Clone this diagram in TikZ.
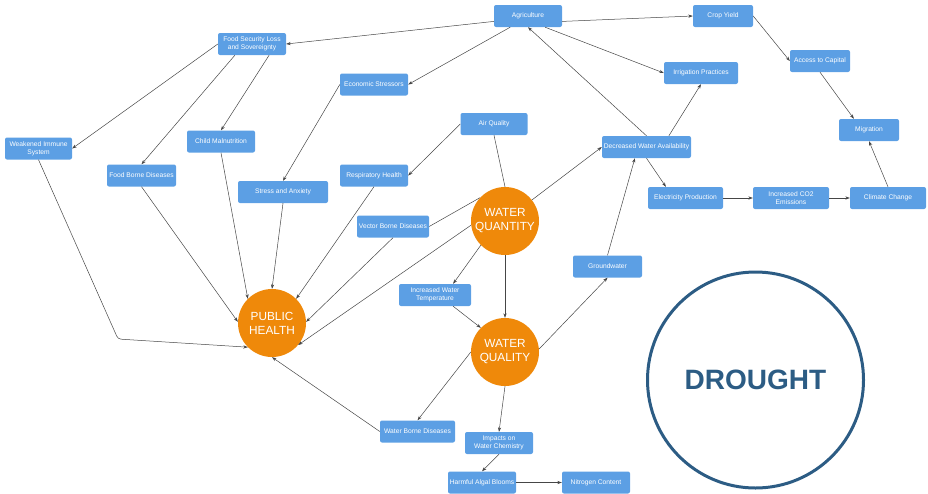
\documentclass[tikz,border=0pt]{standalone}
\usepackage{fontspec}
\setmainfont{Liberation Sans}
\usetikzlibrary{arrows.meta,calc}
\definecolor{boxblue}{RGB}{92,159,228}
\definecolor{hubor}{RGB}{239,137,10}
\definecolor{linegray}{RGB}{70,70,70}
\definecolor{drblue}{RGB}{44,92,132}
\tikzset{
  box/.style={rectangle, rounded corners=2pt, fill=boxblue, text=white, align=center,
    minimum height=22pt, inner sep=0.5pt, font=\fontsize{6.7}{7.9}\selectfont},
  hub/.style={circle, fill=hubor, minimum size=68pt, inner sep=0pt, text=white, align=center,
    font=\fontsize{11.8}{14}\selectfont},
  conn/.style={draw=linegray, line width=0.5pt, -{Stealth[length=4.5pt,width=3.2pt]}},
  plainline/.style={draw=linegray, line width=0.5pt},
}
\begin{document}
\begin{tikzpicture}[x=1pt,y=-1pt]
\useasboundingbox (0,0) rectangle (928,493);
% boxes
\node[box, minimum width=68pt] (ag) at (528,16) {Agriculture};
\node[box, minimum width=60pt] (cy) at (723,16) {Crop Yield};
\node[box, minimum width=68pt] (fs) at (252,44) {Food Security Loss\\and Sovereignty};
\node[box, minimum width=74pt] (ip) at (701,73) {Irrigation Practices};
\node[box, minimum width=60pt] (ac) at (820,61) {Access to Capital};
\node[box, minimum width=68pt] (es) at (374,84.5) {Economic Stressors};
\node[box, minimum width=67pt] (aq) at (494,124) {Air Quality};
\node[box, minimum width=60pt] (mig) at (869,130) {Migration};
\node[box, minimum width=67pt] (wis) at (38.5,148.5) {Weakened Immune\\System};
\node[box, minimum width=68pt] (cm) at (221,141.5) {Child Malnutrition};
\node[box, minimum width=89pt] (dwa) at (646.5,147) {Decreased Water Availability};
\node[box, minimum width=69pt] (fbd) at (141.5,175.5) {Food Borne Diseases};
\node[box, minimum width=68pt] (rh) at (374,175.5) {Respiratory Health};
\node[box, minimum width=90pt] (sa) at (283,192) {Stress and Anxiety};
\node[box, minimum width=75pt] (ep) at (685.5,198) {Electricity Production};
\node[box, minimum width=76pt] (co2) at (791,198) {Increased CO2\\Emissions};
\node[box, minimum width=76pt] (cc) at (888,198) {Climate Change};
\node[box, minimum width=72pt] (vbd) at (393,226.5) {Vector Borne Diseases};
\node[box, minimum width=69pt] (gw) at (607.5,266.5) {Groundwater};
\node[box, minimum width=72pt] (iwt) at (435,295) {Increased Water\\Temperature};
\node[box, minimum width=75pt] (wbd) at (417.5,431.5) {Water Borne Diseases};
\node[box, minimum width=68pt] (iwc) at (499,443) {Impacts on\\Water Chemistry};
\node[box, minimum width=68pt] (hab) at (482,482.5) {Harmful Algal Blooms};
\node[box, minimum width=68pt] (nc) at (596,482.5) {Nitrogen Content};
% hubs
\node[hub] (qty) at (505,221) {WATER\\QUANTITY};
\node[hub] (ph) at (272,323) {PUBLIC\\HEALTH};
\node[hub] (qual) at (505,352) {WATER\\QUALITY};
\node[circle, draw=drblue, line width=3pt, minimum size=216pt, text=drblue,
  font=\bfseries\fontsize{28}{30}\selectfont] (dr) at (755.5,380) {DROUGHT};
\coordinate (wcorner) at (118,339);
% connectors
\draw[conn] (ag.189) -- (fs.east);
\draw[conn] ($(ag.south west)!0.24!(ag.south east)$) -- (es.east);
\draw[conn] (ag.-9) -- (cy.west);
\draw[conn] ($(ag.south west)!0.75!(ag.south east)$) -- (ip.west);
\draw[conn] (dwa.north) -- (ag.south);
\draw[conn] ($(dwa.north west)!0.75!(dwa.north east)$) -- (ip.south);
\draw[conn] (dwa.south) -- ($(ep.north west)!0.24!(ep.north east)$);
\draw[conn] (ep.east) -- (co2.west);
\draw[conn] (co2.east) -- (cc.west);
\draw[conn] (cc.north) -- (mig.south);
\draw[conn] (cy.east) -- (ac.west);
\draw[conn] (ac.south) -- ($(mig.north west)!0.25!(mig.north east)$);
\draw[conn] (fs.west) -- (wis.east);
\draw[conn] ($(fs.south west)!0.25!(fs.south east)$) -- (fbd.north);
\draw[conn] ($(fs.south west)!0.75!(fs.south east)$) -- (cm.north);
\draw[conn] (es.west) -- (sa.north);
\draw[conn] (aq.west) -- (rh.east);
\draw[plainline] (aq.south) -- (qty.north);
\draw[conn] (qty.38) -- (dwa.west);
\draw[plainline] (qty.137) -- (vbd.east);
\draw[conn] (qty.187) -- (ph.-40);
\draw[conn] (vbd.south) -- (ph.2);
\draw[conn] (rh.south) -- (ph.45);
\draw[conn] (sa.south) -- (ph.north);
\draw[conn] (cm.south) -- (ph.135);
\draw[conn] (fbd.south) -- (ph.178);
\draw[conn, rounded corners=3pt] (wis.south) -- (wcorner) -- (ph.225);
\draw[conn] (qty.225) -- ($(iwt.north west)!0.75!(iwt.north east)$);
\draw[conn] (qty.south) -- (qual.north);
\draw[conn] ($(iwt.south west)!0.75!(iwt.south east)$) -- (qual.135);
\draw[conn] (qual.5) -- (gw.south);
\draw[conn] (gw.north) -- ($(dwa.south west)!0.37!(dwa.south east)$);
\draw[conn] (qual.west) -- (wbd.north);
\draw[conn] (wbd.west) -- (ph.south);
\draw[conn] (qual.south) -- (iwc.north);
\draw[conn] (iwc.south) -- (hab.north);
\draw[conn] (hab.east) -- (nc.west);
\end{tikzpicture}
\end{document}
